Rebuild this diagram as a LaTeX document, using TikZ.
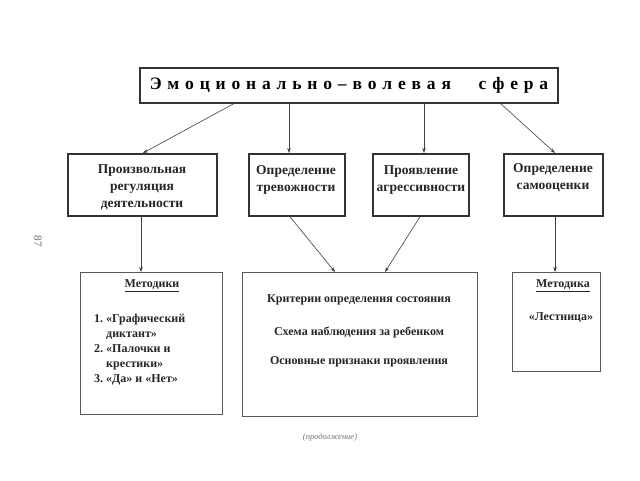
\documentclass[tikz,border=0pt]{standalone}
\usepackage{fontspec}
\setmainfont{Liberation Serif}
\usetikzlibrary{arrows.meta}
\begin{document}
\begin{tikzpicture}[x=1pt,y=-1pt,
  ink/.style={draw=black!80},
  titlebox/.style={ink,line width=2.2pt,minimum width=418pt,minimum height=35pt,font=\bfseries\fontsize{17.5}{20}\selectfont,inner sep=0pt},
  midbox/.style={ink,line width=1.8pt,minimum height=62pt,inner sep=0pt,anchor=north west},
  midtxt/.style={align=center,font=\bfseries\fontsize{13.5}{17}\selectfont,text=black!85,anchor=north,inner sep=0pt},
  lowbox/.style={draw=black!65,line width=0.7pt,inner sep=0pt,anchor=north west},
  arr/.style={draw=black!75,line width=0.6pt,-{Stealth[length=5pt,width=3.5pt]}},
  txt/.style={font=\bfseries\fontsize{12}{15}\selectfont,text=black!85}
]
\useasboundingbox (0,0) rectangle (640,480);
\fill[white] (0,0) rectangle (640,480);
% title
\node[titlebox] (t) at (349,85.5) {Э\,\,м\,\,о\,\,ц\,\,и\,\,о\,\,н\,\,а\,\,л\,\,ь\,\,н\,\,о\,\,–\,\,в\,\,о\,\,л\,\,е\,\,в\,\,а\,\,я\quad\,\, с\,\,ф\,\,е\,\,р\,\,а};
% middle row
\node[midbox,minimum width=149pt] (a) at (67,153) {};
\node[midbox,minimum width=96pt] (b) at (248,153) {};
\node[midbox,minimum width=96pt] (c) at (372,153) {};
\node[midbox,minimum width=99pt] (d) at (503,153) {};
\node[midtxt] (at) at (142,164) {Произвольная\\регуляция\\деятельности};
\node[midtxt] (bt) at (296,165) {Определение\\тревожности};
\node[midtxt] (ct) at (421,165) {Проявление\\агрессивности};
\node[midtxt] (dt) at (553,163) {Определение\\самооценки};
% bottom boxes
\node[lowbox,minimum width=142pt,minimum height=142pt] (e) at (80,272) {};
\node[lowbox,minimum width=235pt,minimum height=144pt] (f) at (242,272) {};
\node[lowbox,minimum width=88pt,minimum height=99pt] (g) at (512,272) {};
% texts inside
\node[txt] (e1) at (152,286) {\underline{Методики}};
\node[txt,anchor=north west,align=left,inner sep=0pt] (e2) at (94,314) {1.\ «Графический\\\hphantom{1.\ }диктант»\\2.\ «Палочки и\\\hphantom{2.\ }крестики»\\3.\ «Да» и «Нет»};
\node[txt] (f1) at (359,300) {Критерии определения состояния};
\node[txt] (f2) at (359,332) {Схема наблюдения за ребенком};
\node[txt] (f3) at (359,362) {Основные признаки проявления};
\node[txt] (g1) at (563,286) {\underline{Методика}};
\node[txt] (g2) at (561,318) {«Лестница»};
\node[font=\itshape\fontsize{8.5}{10}\selectfont,text=black!55] (cont) at (330,437) {(продолжение)};
\node[font=\fontsize{11}{12}\selectfont,text=black!60,rotate=-90] (pg) at (38,241) {87};
% coordinates on title bottom
\coordinate (t1) at (235,103);
\coordinate (t2) at (289,103);
\coordinate (t3) at (424,103);
\coordinate (t4) at (500,103);
\draw[arr] (t1) -- (a.north -| 143,0);
\draw[arr] (t2) -- (b.north -| 289,0);
\draw[arr] (t3) -- (c.north -| 424,0);
\draw[arr] (t4) -- (d.north -| 555,0);
\draw[arr] (a.south -| 141,0) -- (e.north -| 141,0);
\draw[arr] (b.south -| 290,0) -- (f.north -| 335,0);
\draw[arr] (c.south -| 420,0) -- (f.north -| 385,0);
\draw[arr] (d.south -| 555,0) -- (g.north -| 555,0);
\end{tikzpicture}
\end{document}
